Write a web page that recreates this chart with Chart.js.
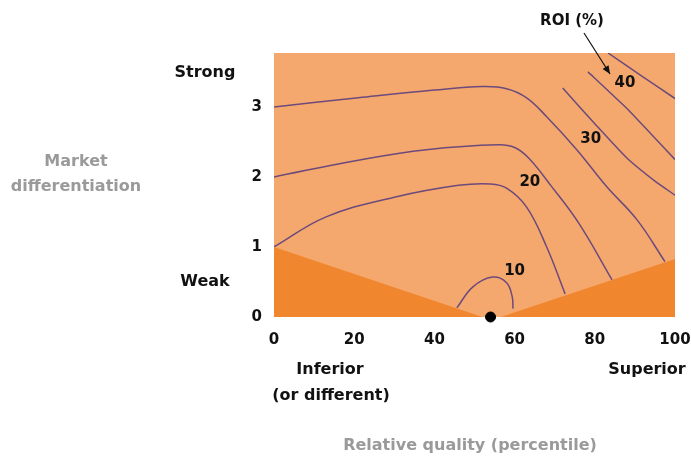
<!DOCTYPE html>
<html>
<head>
<meta charset="utf-8">
<script src="https://cdn.jsdelivr.net/npm/chart.js@4"></script>
<style>
  html, body { margin: 0; padding: 0; background: #fff; }
  #wrap { width: 691px; height: 461px; }
</style>
</head>
<body>
<div id="wrap"><canvas id="roiChart" width="691" height="461"></canvas></div>
<script>
// axis ticks
var xTicks = [0, 20, 40, 60, 80, 100];
var yTicks = [0, 1, 2, 3];

// shaded "weak" corners (relative quality, differentiation)
var leftWedge = [{x: 0, y: 1}, {x: 52, y: 0}];
var rightWedge = [{x: 56.5, y: 0}, {x: 100, y: 0.83}];

// ROI contour lines
var lineA = [{x: 0, y: 3}, {x: 21, y: 3.13}, {x: 40, y: 3.24}, {x: 52, y: 3.29}, {x: 58, y: 3.26}, {x: 63, y: 3.13},
             {x: 68, y: 2.86}, {x: 75.5, y: 2.39}, {x: 83, y: 1.86}, {x: 90.5, y: 1.39}, {x: 97.5, y: 0.79}];
var lineB = [{x: 0, y: 2}, {x: 21, y: 2.24}, {x: 38, y: 2.39}, {x: 56, y: 2.46}, {x: 60, y: 2.42}, {x: 63.5, y: 2.27},
             {x: 69, y: 1.88}, {x: 76, y: 1.34}, {x: 84.3, y: 0.53}];
var lineF = [{x: 0, y: 1}, {x: 13, y: 1.43}, {x: 30, y: 1.71}, {x: 46, y: 1.88}, {x: 54, y: 1.9}, {x: 58, y: 1.84},
             {x: 63, y: 1.57}, {x: 68, y: 1.0}, {x: 72.6, y: 0.33}];
var lineC = [{x: 72, y: 3.27}, {x: 80, y: 2.76}, {x: 88, y: 2.27}, {x: 95, y: 1.94}, {x: 100, y: 1.74}];
var lineD = [{x: 78.3, y: 3.5}, {x: 88.5, y: 2.95}, {x: 100, y: 2.25}];
var lineE = [{x: 83.3, y: 3.77}, {x: 92, y: 3.43}, {x: 100, y: 3.12}];
var hump10 = [{x: 45.6, y: 0.13}, {x: 49.6, y: 0.43}, {x: 54.5, y: 0.57}, {x: 58, y: 0.49}, {x: 59.4, y: 0.29}, {x: 59.6, y: 0.12}];

var contourLabels = ["10", "20", "30", "40"];
var contourLabelX = [60, 63.8, 79, 87.5];
var contourLabelY = [0.66, 1.93, 2.54, 3.34];

var marker = [{x: 54, y: 0}];

var lightOrange = '#f5a86e';
var darkOrange = '#f0872e';
var lineColour = '#6c4a7c';
var font = '"DejaVu Sans", sans-serif';

function contour(pts, t) {
    return {
        data: pts,
        showLine: true,
        borderColor: lineColour,
        borderWidth: 1.5,
        pointRadius: 0,
        tension: t,
        fill: false
    };
}

var backdrop = {
    id: 'backdrop',
    beforeDatasetsDraw: function(chart) {
        var a = chart.chartArea, c = chart.ctx;
        c.save();
        c.fillStyle = lightOrange;
        c.fillRect(a.left, a.top, a.right - a.left, a.bottom - a.top);
        c.restore();
    }
};

var notes = {
    id: 'notes',
    afterDraw: function(chart) {
        var c = chart.ctx, xs = chart.scales.x, ys = chart.scales.y;
        c.save();
        c.textAlign = 'center';
        c.textBaseline = 'middle';
        c.fillStyle = '#111';
        c.font = 'bold 15px ' + font;
        for (var i = 0; i < contourLabels.length; i++) {
            c.fillText(contourLabels[i], xs.getPixelForValue(contourLabelX[i]), ys.getPixelForValue(contourLabelY[i]));
        }
        // ROI (%) caption and arrow
        c.fillText('ROI (%)', 572, 21);
        c.strokeStyle = '#111';
        c.lineWidth = 1.2;
        var tx = xs.getPixelForValue(83.8), ty = ys.getPixelForValue(3.47);
        c.beginPath();
        c.moveTo(584, 33);
        c.lineTo(tx, ty);
        c.stroke();
        var ang = Math.atan2(ty - 33, tx - 584);
        c.beginPath();
        c.moveTo(tx, ty);
        c.lineTo(tx - 9 * Math.cos(ang - 0.4), ty - 9 * Math.sin(ang - 0.4));
        c.lineTo(tx - 9 * Math.cos(ang + 0.4), ty - 9 * Math.sin(ang + 0.4));
        c.closePath();
        c.fillStyle = '#111';
        c.fill();

        c.font = 'bold 16px ' + font;
        c.fillText('Strong', 205, 73);
        c.fillText('Weak', 205, 282);
        c.fillText('Inferior', 330, 370);
        c.fillText('(or different)', 331, 396);
        c.fillText('Superior', 647, 370);

        c.fillStyle = '#9a9a9a';
        c.fillText('Market', 76, 162);
        c.fillText('differentiation', 76, 187);
        c.fillText('Relative quality (percentile)', 470, 446);
        c.restore();
    }
};

new Chart(document.getElementById('roiChart').getContext('2d'), {
    type: 'scatter',
    data: {
        datasets: [
            {data: leftWedge, showLine: true, borderWidth: 0, pointRadius: 0, tension: 0, fill: 'origin', backgroundColor: darkOrange},
            {data: rightWedge, showLine: true, borderWidth: 0, pointRadius: 0, tension: 0, fill: 'origin', backgroundColor: darkOrange},
            contour(lineA, 0.4), contour(lineB, 0.4), contour(lineF, 0.4),
            contour(lineC, 0.2), contour(lineD, 0.1), contour(lineE, 0.1), contour(hump10, 0.4),
            {data: marker, pointRadius: 5, backgroundColor: '#000', borderColor: '#000', clip: false}
        ]
    },
    options: {
        responsive: false,
        animation: false,
        layout: {padding: {top: 53, right: 16, left: 0, bottom: 0}},
        plugins: {legend: {display: false}, tooltip: {enabled: false}},
        scales: {
            x: {
                type: 'linear', min: 0, max: 100,
                afterBuildTicks: function(s) { s.ticks = xTicks.map(function(v) { return {value: v}; }); },
                afterFit: function(s) { s.height = 144; s.paddingLeft = 0; s.paddingRight = 0; },
                grid: {display: false, drawTicks: false},
                border: {display: false},
                ticks: {color: '#111', padding: 14, maxRotation: 0, font: {family: font, size: 15, weight: 'bold'}}
            },
            y: {
                type: 'linear', min: 0, max: 3.77,
                afterBuildTicks: function(s) { s.ticks = yTicks.map(function(v) { return {value: v}; }); },
                afterFit: function(s) { s.width = 274; s.paddingTop = 0; s.paddingBottom = 0; },
                grid: {display: false, drawTicks: false},
                border: {display: false},
                ticks: {color: '#111', padding: 12, font: {family: font, size: 15, weight: 'bold'}}
            }
        }
    },
    plugins: [backdrop, notes]
});
</script>
</body>
</html>
